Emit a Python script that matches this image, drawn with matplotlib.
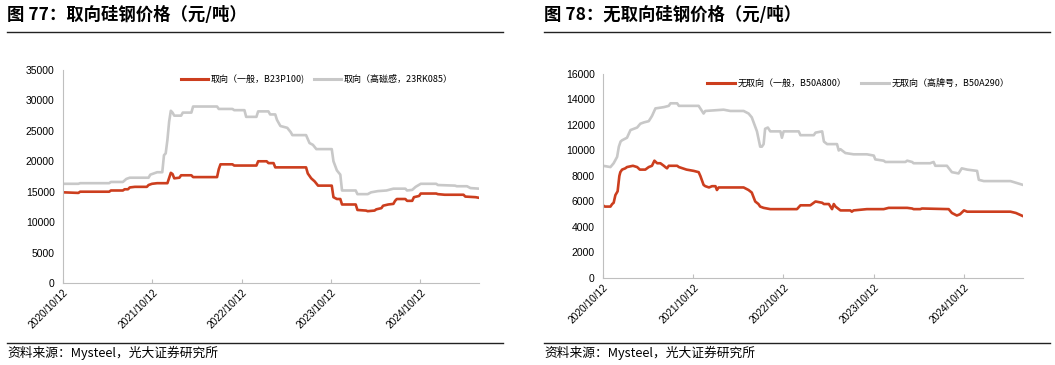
import matplotlib
matplotlib.use("Agg")
import matplotlib.pyplot as plt
import pandas as pd

plt.rcParams["font.family"] = ["Liberation Sans", "Noto Sans CJK SC", "DejaVu Sans"]

CJK = ["Noto Sans CJK SC", "DejaVu Sans"]
RED = "#cc3e1e"
GRAY = "#c8c8c8"
SPINE = "#bfbfbf"

# ---- 图77 取向硅钢 ----
go_dates = ["2020-10-12", "2020-12-14", "2020-12-21", "2021-04-19", "2021-04-26", "2021-06-14",
            "2021-06-21", "2021-07-05", "2021-07-12", "2021-08-02", "2021-09-20", "2021-09-27",
            "2021-10-11", "2021-11-01", "2021-12-13", "2021-12-27", "2022-01-03", "2022-01-10",
            "2022-01-31", "2022-02-07", "2022-03-21", "2022-03-28", "2022-07-04", "2022-07-11",
            "2022-07-18", "2022-09-05", "2022-09-12", "2022-12-12", "2022-12-19", "2023-01-23",
            "2023-01-30", "2023-02-20", "2023-02-27", "2023-07-03", "2023-07-10", "2023-07-24",
            "2023-08-07", "2023-08-21", "2023-10-16", "2023-10-23", "2023-11-06", "2023-11-20",
            "2023-11-27", "2024-01-22", "2024-01-29", "2024-03-04", "2024-03-11", "2024-04-08",
            "2024-04-15", "2024-05-06", "2024-05-13", "2024-06-03", "2024-06-24", "2024-07-01",
            "2024-07-08", "2024-08-12", "2024-08-19", "2024-09-09", "2024-09-16", "2024-10-07",
            "2024-10-14", "2024-12-16", "2024-12-23", "2025-01-20", "2025-04-07", "2025-04-14",
            "2025-05-26", "2025-06-09"]
go_general = [14900, 14800, 15000, 15000, 15200, 15200,
              15400, 15400, 15700, 15800, 15800, 16100,
              16300, 16400, 16400, 18100, 17900, 17200,
              17300, 17700, 17700, 17400, 17400, 18700,
              19500, 19500, 19300, 19300, 20000, 20000,
              19700, 19700, 19000, 19000, 18000, 17200,
              16700, 16000, 16000, 14100, 13800, 13800,
              12900, 12900, 12000, 11900, 11800, 11900,
              12100, 12300, 12700, 12900, 13000, 13500,
              13800, 13800, 13500, 13500, 14100, 14300,
              14700, 14700, 14600, 14500, 14500, 14200,
              14100, 14000]

go_hi_dates = ["2020-10-12", "2020-12-14", "2020-12-21", "2021-04-19", "2021-04-26", "2021-06-14",
               "2021-06-28", "2021-07-12", "2021-09-27", "2021-10-04", "2021-10-18", "2021-11-01",
               "2021-11-22", "2021-11-29", "2021-12-06", "2021-12-13", "2021-12-20", "2021-12-27",
               "2022-01-03", "2022-01-10", "2022-02-07", "2022-02-14", "2022-03-21", "2022-03-28",
               "2022-07-04", "2022-07-11", "2022-09-05", "2022-09-12", "2022-10-24", "2022-10-31",
               "2022-12-12", "2022-12-19", "2023-01-30", "2023-02-06", "2023-02-27", "2023-03-06",
               "2023-03-20", "2023-04-17", "2023-05-01", "2023-05-08", "2023-07-03", "2023-07-17",
               "2023-07-31", "2023-08-14", "2023-10-16", "2023-10-23", "2023-11-06", "2023-11-20",
               "2023-11-27", "2024-01-22", "2024-01-29", "2024-03-11", "2024-03-25", "2024-04-22",
               "2024-05-27", "2024-06-24", "2024-08-12", "2024-08-19", "2024-09-09", "2024-09-23",
               "2024-10-14", "2024-12-16", "2024-12-23", "2025-03-03", "2025-03-10", "2025-04-21",
               "2025-05-05", "2025-06-09"]
go_high = [16300, 16300, 16400, 16400, 16600, 16600,
           17100, 17300, 17300, 17800, 18000, 18200,
           18200, 21000, 21300, 23500, 26500, 28300,
           28000, 27500, 27500, 28000, 28000, 29000,
           29000, 28600, 28600, 28400, 28400, 27300,
           27300, 28200, 28200, 27700, 27700, 26800,
           25800, 25500, 24800, 24300, 24300, 23000,
           22700, 22000, 22000, 20000, 18500, 17800,
           15200, 15200, 14600, 14600, 14900, 15100,
           15200, 15500, 15500, 15200, 15300, 15800,
           16300, 16300, 16100, 16000, 15900, 15900,
           15600, 15500]

# ---- 图78 无取向硅钢 ----
no_dates = ["2020-10-12", "2020-10-19", "2020-11-11", "2020-11-18", "2020-11-24", "2020-12-01",
            "2020-12-10", "2020-12-17", "2020-12-21", "2020-12-28", "2021-01-10", "2021-01-17",
            "2021-02-10", "2021-02-27", "2021-03-10", "2021-04-01", "2021-04-15", "2021-04-28",
            "2021-05-08", "2021-05-19", "2021-06-01", "2021-06-15", "2021-06-21", "2021-06-28",
            "2021-07-05", "2021-08-08", "2021-08-15", "2021-09-15", "2021-10-14", "2021-11-03",
            "2021-11-10", "2021-11-23", "2021-11-30", "2021-12-15", "2021-12-27", "2022-01-10",
            "2022-01-16", "2022-01-23", "2022-05-04", "2022-05-24", "2022-06-06", "2022-06-20",
            "2022-07-03", "2022-07-10", "2022-07-24", "2022-08-20", "2022-12-06", "2022-12-20",
            "2023-01-29", "2023-02-12", "2023-02-19", "2023-03-18", "2023-03-25", "2023-04-14",
            "2023-04-27", "2023-05-04", "2023-05-11", "2023-05-31", "2023-07-10", "2023-07-16",
            "2023-07-23", "2023-09-15", "2023-11-22", "2023-12-12", "2024-02-25", "2024-03-16",
            "2024-03-22", "2024-04-18", "2024-04-25", "2024-08-11", "2024-08-24", "2024-09-13",
            "2024-09-26", "2024-10-12", "2024-10-25", "2025-04-18", "2025-05-10", "2025-06-08"]
no_general = [5700, 5600, 5600, 5800, 5900, 6500,
              6800, 8000, 8300, 8500, 8600, 8700,
              8800, 8700, 8500, 8500, 8700, 8800,
              9200, 9000, 9000, 8800, 8700, 8600,
              8800, 8800, 8700, 8500, 8400, 8300,
              8000, 7300, 7200, 7100, 7200, 7200,
              6900, 7100, 7100, 6900, 6700, 6000,
              5800, 5600, 5500, 5400, 5400, 5700,
              5700, 5900, 6000, 5900, 5800, 5800,
              5400, 5800, 5600, 5300, 5300, 5200,
              5300, 5400, 5400, 5500, 5500, 5450,
              5400, 5400, 5450, 5400, 5100, 4900,
              5000, 5300, 5200, 5200, 5100, 4850]

no_hi_dates = ["2020-10-12", "2020-11-11", "2020-11-24", "2020-12-08", "2020-12-15", "2020-12-22",
               "2020-12-28", "2021-01-17", "2021-01-31", "2021-02-27", "2021-03-12", "2021-03-26",
               "2021-04-15", "2021-04-28", "2021-05-12", "2021-06-15", "2021-07-05", "2021-07-12",
               "2021-08-08", "2021-08-15", "2021-11-03", "2021-11-23", "2021-11-30", "2022-02-12",
               "2022-03-11", "2022-05-04", "2022-05-24", "2022-06-06", "2022-06-27", "2022-07-10",
               "2022-07-17", "2022-07-24", "2022-07-30", "2022-08-10", "2022-08-20", "2022-09-30",
               "2022-10-06", "2022-10-13", "2022-12-13", "2022-12-20", "2023-02-12", "2023-02-19",
               "2023-03-18", "2023-03-25", "2023-04-07", "2023-05-17", "2023-05-24", "2023-05-31",
               "2023-06-20", "2023-07-23", "2023-09-15", "2023-10-13", "2023-10-19", "2023-11-22",
               "2023-11-29", "2024-02-18", "2024-02-25", "2024-03-16", "2024-03-22", "2024-05-28",
               "2024-06-11", "2024-06-18", "2024-08-04", "2024-08-24", "2024-09-20", "2024-10-03",
               "2024-10-25", "2024-12-04", "2024-12-11", "2024-12-31", "2025-04-18", "2025-06-08"]
no_high = [8800, 8700, 9000, 9500, 10300, 10700,
           10800, 11000, 11600, 11800, 12100, 12200,
           12300, 12700, 13300, 13400, 13500, 13700,
           13700, 13500, 13500, 12900, 13100, 13200,
           13100, 13100, 12900, 12600, 11500, 10300,
           10300, 10500, 11700, 11800, 11500, 11500,
           11000, 11500, 11500, 11200, 11200, 11400,
           11500, 10700, 10500, 10500, 10000, 10100,
           9800, 9700, 9700, 9600, 9300, 9200,
           9100, 9100, 9200, 9100, 9000, 9000,
           9100, 8800, 8800, 8300, 8200, 8600,
           8500, 8400, 7700, 7600, 7600, 7300]

xtick_labels = ["2020/10/12", "2021/10/12", "2022/10/12", "2023/10/12", "2024/10/12"]

fig = plt.figure(figsize=(10.55, 3.65), dpi=100)


def draw_panel(rect, series, ymax, ystep, leg_anchor, leg_gap, x_start, x_end):
    ax = fig.add_axes(rect)
    for d, v, c, lab in series:
        ax.plot(pd.to_datetime(d), v, color=c, lw=1.9, label=lab, solid_joinstyle="round")
    ax.set_ylim(0, ymax)
    ax.set_yticks(range(0, ymax + 1, ystep))
    ax.set_xlim(pd.Timestamp(x_start), pd.Timestamp(x_end))
    ticks = pd.to_datetime([s.replace("/", "-") for s in xtick_labels])
    ax.set_xticks(ticks)
    ax.set_xticklabels(xtick_labels, rotation=45, ha="right", va="top",
                       rotation_mode="anchor", fontsize=7.3)
    ax.tick_params(axis="x", direction="in", length=3, color=SPINE, pad=3)
    ax.tick_params(axis="y", length=0, labelsize=7.5, pad=6)
    for s in ["top", "right"]:
        ax.spines[s].set_visible(False)
    for s in ["left", "bottom"]:
        ax.spines[s].set_color(SPINE)
        ax.spines[s].set_linewidth(0.8)
    leg = ax.legend(loc="upper left", bbox_to_anchor=leg_anchor, ncol=2, frameon=False,
                    prop={"family": CJK, "size": 6.5}, handlelength=3.0, columnspacing=leg_gap,
                    handletextpad=0.3, borderaxespad=0)
    for ln in leg.get_lines():
        ln.set_linewidth(2.2)
    return ax


draw_panel([0.0597, 0.2247, 0.3943, 0.5835],
           [(go_dates, go_general, RED, "取向（一般，B23P100)"),
            (go_hi_dates, go_high, GRAY, "取向（高磁感，23RK085）")],
           35000, 5000, (0.275, 0.995), 1.0, "2020-10-12", "2025-06-09")

draw_panel([0.5716, 0.2384, 0.3981, 0.5589],
           [(no_dates, no_general, RED, "无取向（一般，B50A800）"),
            (no_hi_dates, no_high, GRAY, "无取向（高牌号，B50A290）")],
           16000, 2000, (0.24, 0.995), 1.7, "2020-10-12", "2025-06-08")

# titles, rules and source notes
for x0, x1, title in [(7, 503, "图 77：取向硅钢价格（元/吨）"),
                      (544, 1050, "图 78：无取向硅钢价格（元/吨）")]:
    fig.text(x0 / 1055, 1 - 15 / 365, title, family=CJK, fontsize=12.5,
             fontweight="bold", va="center", ha="left")
    fig.add_artist(plt.Line2D([x0 / 1055, x1 / 1055], [1 - 32 / 365] * 2,
                              color="#222222", lw=1.0))
    fig.add_artist(plt.Line2D([x0 / 1055, x1 / 1055], [1 - 343 / 365] * 2,
                              color="#222222", lw=1.0))
    fig.text(x0 / 1055, 1 - 353 / 365, "资料来源：Mysteel，光大证券研究所", family=CJK,
             fontsize=9.2, va="center", ha="left")

fig.savefig("out.png", dpi=100)
